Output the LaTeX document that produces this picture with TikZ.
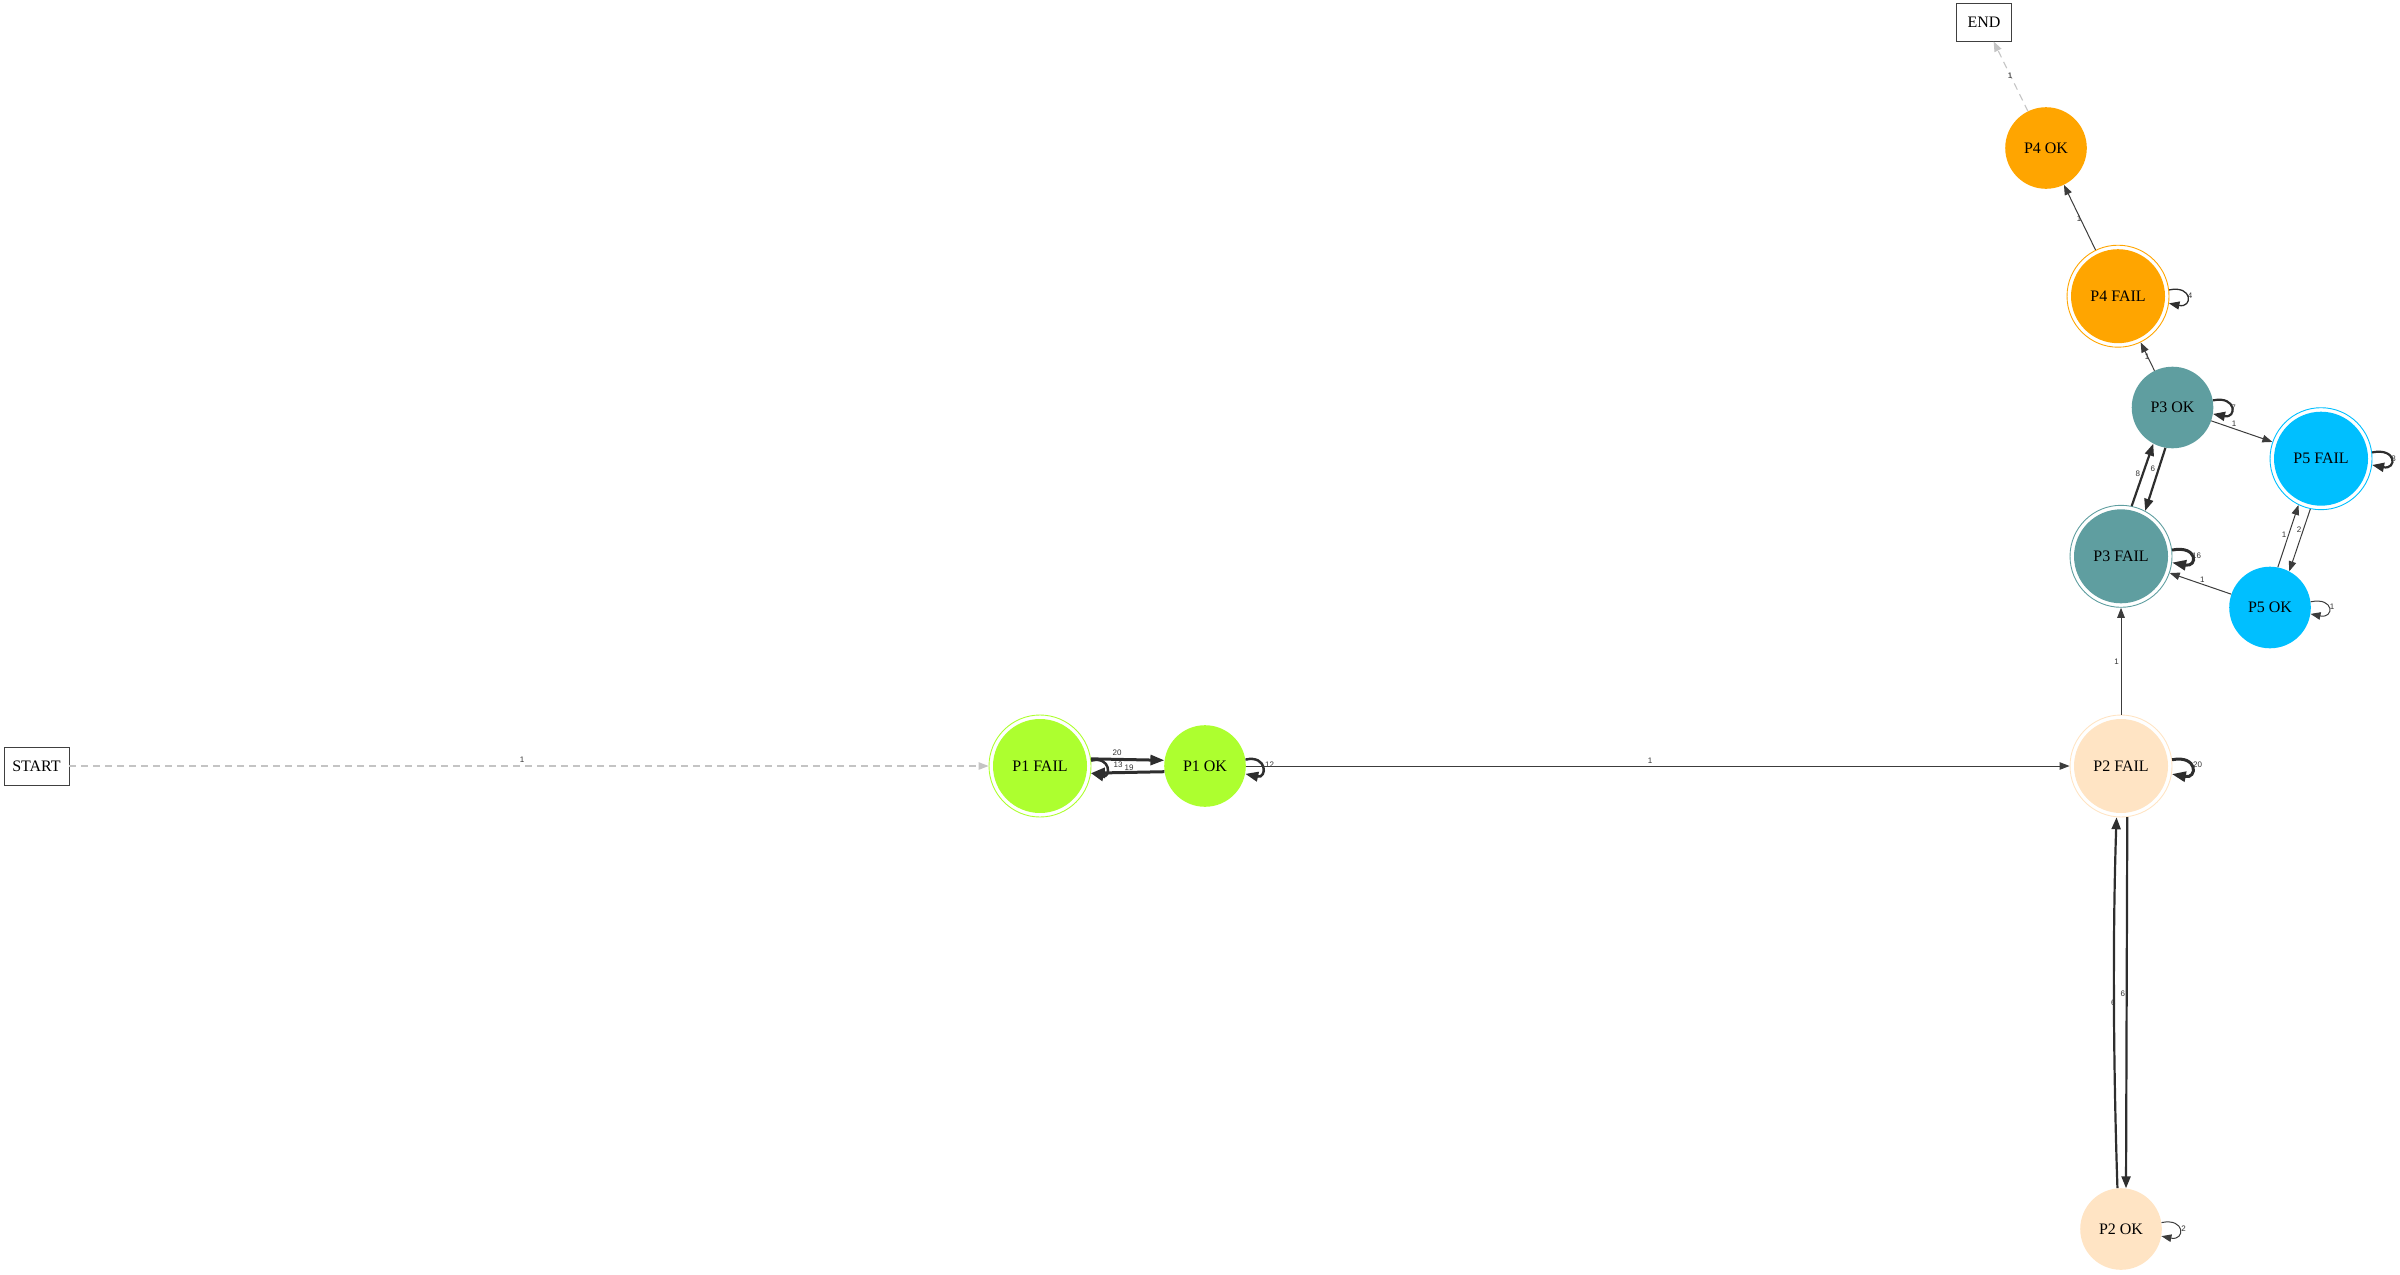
\documentclass[tikz,border=0pt]{standalone}
\usepackage{fontspec}
\setmainfont{Liberation Serif}
\newfontfamily\lblfont{Liberation Sans}
\usetikzlibrary{arrows.meta}
\definecolor{cPa}{HTML}{ADFF2F}
\definecolor{cPb}{HTML}{FFE4C4}
\definecolor{cPc}{HTML}{5F9EA0}
\definecolor{cPd}{HTML}{FFA500}
\definecolor{cPe}{HTML}{00BFFF}
\definecolor{edgec}{HTML}{2E2E2E}
\definecolor{thinc}{HTML}{3C3C3C}
\definecolor{startc}{HTML}{C4C4C4}
\begin{document}
\begin{tikzpicture}[x=1pt,y=-1pt,
  okn/.style={circle, fill=#1, draw=none, minimum size=81.6pt, inner sep=0pt, font=\fontsize{16}{18}\selectfont},
  failn/.style={circle, draw=#1, line width=0.9pt, minimum size=102pt, inner sep=0pt, font=\fontsize{16}{18}\selectfont,
     path picture={\fill[#1] (path picture bounding box.center) circle[radius=47pt];}},
  boxn/.style={draw=black!75, line width=0.9pt, fill=white, minimum height=38pt, inner sep=0pt, font=\fontsize{16}{18}\selectfont},
  lbl/.style={inner sep=0pt, text=black!80, font=\lblfont\fontsize{8}{9}\selectfont},
  ewa/.style={draw=thinc, line width=1.0pt, -{Triangle[length=10pt,width=7.5pt]}},
  ewb/.style={draw=edgec, line width=1.3pt, -{Triangle[length=10.5pt,width=8pt]}},
  ewd/.style={draw=edgec, line width=1.6pt, -{Triangle[length=11pt,width=8pt]}},
  ewf/.style={draw=edgec, line width=2.2pt, -{Triangle[length=12pt,width=9pt]}},
  ewl/.style={draw=edgec, line width=2.5pt, -{Triangle[length=13pt,width=9.5pt]}},
  ewt/.style={draw=edgec, line width=3.0pt, -{Triangle[length=14pt,width=10pt]}},
  dashe/.style={draw=startc, line width=1.1pt, dash pattern=on 7pt off 5pt, -{Triangle[length=10pt,width=7.5pt]}}
]
\useasboundingbox (0,0) rectangle (2400,1274);

% nodes
\node[boxn, minimum width=65pt] (start) at (36.5,766) {START};
\node[boxn, minimum width=55pt] (end) at (1984,22) {END};
\node[failn=cPa] (p1f) at (1040,766) {P1 FAIL};
\node[okn=cPa] (p1o) at (1205,766) {P1 OK};
\node[failn=cPb] (p2f) at (2121,766) {P2 FAIL};
\node[okn=cPb] (p2o) at (2121,1229) {P2 OK};
\node[failn=cPc] (p3f) at (2121,556.3) {P3 FAIL};
\node[okn=cPc] (p3o) at (2172.5,407.5) {P3 OK};
\node[failn=cPd] (p4f) at (2118,296.2) {P4 FAIL};
\node[okn=cPd] (p4o) at (2046,148) {P4 OK};
\node[failn=cPe] (p5f) at (2321,458.7) {P5 FAIL};
\node[okn=cPe] (p5o) at (2270,607.5) {P5 OK};

% edges
\draw[dashe] (start) -- (p1f);
\node[lbl] (l01) at (522,760) {1};

\draw[ewt] (p1f.8) -- (p1o.172);
\node[lbl] (l02) at (1117,753) {20};
\draw[ewt] (p1o.188) -- (p1f.-8);
\node[lbl] (l03) at (1129,767.5) {19};
\draw[ewl] (p1f.6) .. controls +(20,-5) and +(20,5) .. (p1f.-8);
\node[lbl] (l04) at (1118,764.5) {13};
\draw[ewl] (p1o.9) .. controls +(22,-5) and +(22,5) .. (p1o.-11);
\node[lbl] (l05) at (1269.5,764.3) {12};

\draw[ewa] (p1o) -- (p2f);
\node[lbl] (l06) at (1650,760.5) {1};

\draw[ewt] (p2f.7) .. controls +(26,-5) and +(26,5) .. (p2f.-9);
\node[lbl] (l07) at (2197.5,764.3) {20};
\draw[ewa] (p2f) -- (p3f);
\node[lbl] (l08) at (2116.5,662) {1};
\draw[ewf] (p2f.-83) -- (p2o.83);
\node[lbl] (l09) at (2122.7,993.3) {6};
\draw[ewf] (p2o.95) .. controls +(-4,-120) and +(-4,120) .. (p2f.-95);
\node[lbl] (l10) at (2113.3,1002.7) {6};
\draw[ewa] (p2o.9) .. controls +(24,-5) and +(24,5) .. (p2o.-10);
\node[lbl] (l11) at (2183.5,1228.3) {2};

\draw[ewf] (p3f.78) -- (p3o.242);
\node[lbl] (l12) at (2137.7,474) {8};
\draw[ewf] (p3o.260) -- (p3f.62);
\node[lbl] (l13) at (2152.7,469) {6};
\draw[ewt] (p3f.7) .. controls +(26,-5) and +(26,5) .. (p3f.-7);
\node[lbl] (l14) at (2196.5,556) {16};
\draw[ewf] (p3o.10) .. controls +(24,-5) and +(24,5) .. (p3o.-9);
\node[lbl] (l15) at (2233.5,407.3) {7};
\draw[ewa] (p3o) -- (p5f);
\node[lbl] (l16) at (2234,424) {1};
\draw[ewa] (p3o) -- (p4f);
\node[lbl] (l17) at (2147,356.5) {1};

\draw[ewb] (p4f.7) .. controls +(24,-5) and +(24,5) .. (p4f.-8);
\node[lbl] (l18) at (2190,295.3) {4};
\draw[ewa] (p4f) -- (p4o);
\node[lbl] (l19) at (2079,218.3) {1};
\draw[dashe] (p4o) -- (end);
\node[lbl] (l20) at (2010,76) {1};

\draw[ewf] (p5f.7) .. controls +(25,-5) and +(25,5) .. (p5f.-7);
\node[lbl] (l21) at (2393.5,458.3) {8};
\draw[ewa] (p5f.-102) -- (p5o.62);
\node[lbl] (l22) at (2299,530) {2};
\draw[ewa] (p5o.79) -- (p5f.244);
\node[lbl] (l23) at (2284,535) {1};
\draw[ewa] (p5o) -- (p3f);
\node[lbl] (l24) at (2202.3,580) {1};
\draw[ewa] (p5o.8) .. controls +(24,-5) and +(24,5) .. (p5o.-9);
\node[lbl] (l25) at (2332,607) {1};
\end{tikzpicture}
\end{document}
